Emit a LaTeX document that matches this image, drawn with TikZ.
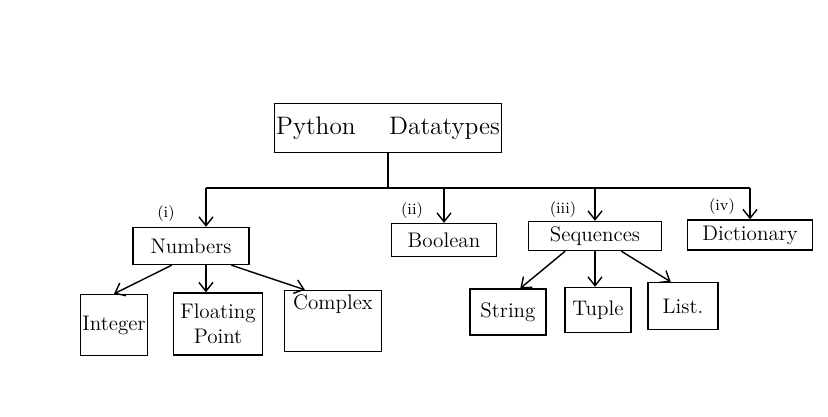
\documentclass[tikz,border=0pt]{standalone}
\usepackage[]{amsmath}
\usetikzlibrary{arrows.meta,positioning}

\begin{document}
\begin{tikzpicture}[x=0.02cm,y=-0.02cm,
        dtbox/.style={draw,thick,inner sep=1pt,align=center,font=\large},
        arr/.style={thick,-{Straight Barb[length=5pt,width=8pt]}},
        lbl/.style={font=\small,inner sep=1pt}]
        \useasboundingbox (0,0) rectangle (828,416);
        \node[dtbox,minimum width=4.4cm,minimum height=0.98cm,font=\Large] (root) at (388,128) {Python \quad Datatypes};
        \node[dtbox,minimum width=2.32cm,minimum height=0.74cm] (num) at (191,246) {Numbers};
        \node[dtbox,minimum width=2.1cm,minimum height=0.66cm] (bool) at (444,240) {Boolean};
        \node[dtbox,minimum width=2.66cm,minimum height=0.58cm] (seq) at (595,236) {Sequences};
        \node[dtbox,minimum width=2.5cm,minimum height=0.6cm] (dict) at (750,235) {Dictionary};
        \node[dtbox,minimum width=1.28cm,minimum height=1.22cm] (int) at (114,325) {Integer};
        \node[dtbox,minimum width=1.78cm,minimum height=1.24cm] (flt) at (218,324) {Floating\\Point};
        \node[dtbox,minimum width=1.94cm,minimum height=1.22cm,text depth=0.75cm] (cpx) at (333,321) {Complex};
        \node[dtbox,minimum width=1.52cm,minimum height=0.92cm] (str) at (508,312) {String};
        \node[dtbox,minimum width=1.32cm,minimum height=0.9cm] (tup) at (598,310) {Tuple};
        \node[dtbox,minimum width=1.4cm,minimum height=0.94cm] (lst) at (683,306) {List.};
        \coordinate (busL) at (206,188);
        \draw[thick] (root.south) -- (root.south |- busL);
        \draw[thick] (busL) -- (busL -| dict.north);
        \draw[arr] (busL) -- (busL |- num.north);
        \draw[arr] (busL -| bool.north) -- (bool.north);
        \draw[arr] (busL -| seq.north) -- (seq.north);
        \draw[arr] (busL -| dict.north) -- (dict.north);
        \node[lbl] (li) at (166,214) {(i)};
        \node[lbl] (lii) at (412,211) {(ii)};
        \node[lbl] (liii) at (563,210) {(iii)};
        \node[lbl] (liv) at (722,207) {(iv)};
        \draw[arr] ([xshift=-11pt]num.south) -- (int.north);
        \draw[arr] ([xshift=8.5pt]num.south) -- ([xshift=8.5pt]num.south |- flt.north);
        \draw[arr] ([xshift=23pt]num.south) -- ([xshift=-16pt]cpx.north);
        \draw[arr] ([xshift=-17pt]seq.south) -- ([xshift=7pt]str.north);
        \draw[arr] (seq.south) -- (seq.south |- tup.north);
        \draw[arr] ([xshift=15pt]seq.south) -- ([xshift=-7pt]lst.north);
    \end{tikzpicture}
\end{document}
